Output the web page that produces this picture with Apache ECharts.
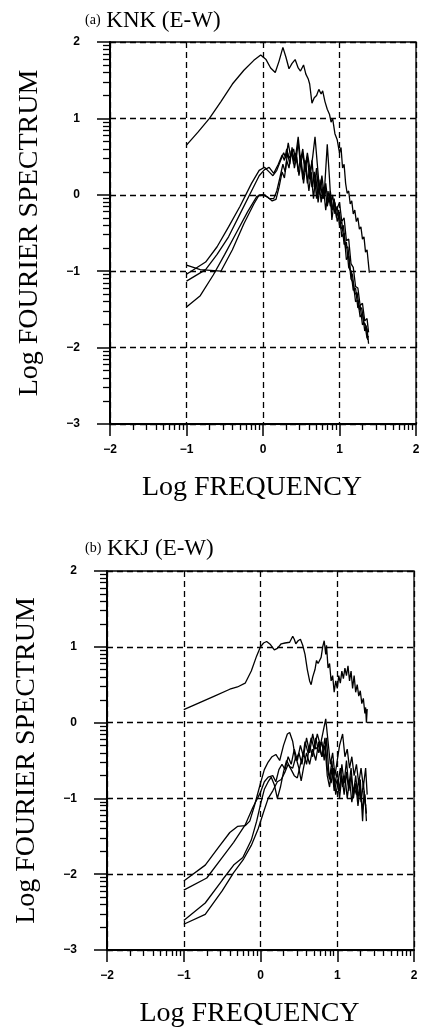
<!DOCTYPE html>
<html>
<head>
<meta charset="utf-8">
<script src="https://cdn.jsdelivr.net/npm/echarts@6/dist/echarts.min.js"></script>
<style>
  html, body { margin: 0; padding: 0; background: #fff; }
  #main { width: 429px; height: 1029px; }
</style>
</head>
<body>
<div id="main"></div>
<script>
// major tick values
const xTicks = [-2, -1, 0, 1, 2];
const yTicks = [-3, -2, -1, 0, 1, 2];

// (a) KNK (E-W), [log f, log spectrum]
const knkTop = [[-1.00,0.65],[-0.85,0.82],[-0.70,1.00],[-0.55,1.22],[-0.40,1.45],[-0.25,1.63],[-0.12,1.76],[-0.03,1.83],[0.04,1.77],[0.10,1.66],[0.16,1.60],[0.21,1.75],[0.26,1.93],[0.30,1.80],[0.34,1.65],[0.38,1.72],[0.42,1.77],[0.46,1.66],[0.49,1.62],[0.53,1.70],[0.56,1.58],[0.59,1.52],[0.61,1.45],[0.64,1.20],[0.67,1.27],[0.70,1.30],[0.73,1.38],[0.76,1.32],[0.78,1.36],[0.81,1.22],[0.84,1.12],[0.87,1.05],[0.89,0.95],[0.91,1.00],[0.94,0.80],[0.97,0.72],[1.00,0.55],[1.02,0.62],[1.04,0.35],[1.06,0.40],[1.08,0.15],[1.10,0.02],[1.12,0.05],[1.14,-0.12],[1.16,-0.08],[1.18,-0.25],[1.20,-0.20],[1.22,-0.35],[1.24,-0.30],[1.26,-0.45],[1.28,-0.42],[1.30,-0.58],[1.32,-0.55],[1.34,-0.75],[1.36,-0.72],[1.38,-0.92],[1.39,-1.02]];
const knkA = [[-1.00,-0.92],[-0.82,-0.98],[-0.55,-1.00],[-0.40,-0.72],[-0.25,-0.38],[-0.12,-0.12],[-0.05,0.00],[0.02,0.00],[0.08,-0.05],[0.14,-0.05],[0.18,0.05],[0.22,0.22],[0.26,0.40],[0.29,0.30],[0.32,0.55],[0.35,0.40],[0.38,0.62],[0.41,0.35],[0.44,0.50],[0.47,0.25],[0.50,0.45],[0.53,0.15],[0.56,0.40],[0.60,0.05],[0.63,0.30],[0.66,-0.05],[0.69,0.25],[0.72,-0.10],[0.75,0.15],[0.78,-0.05],[0.81,0.10],[0.84,-0.15],[0.87,0.00],[0.90,-0.20],[0.93,-0.05],[0.96,-0.30],[0.99,-0.20],[1.02,-0.45],[1.05,-0.40],[1.08,-0.70],[1.11,-0.68],[1.14,-0.98],[1.17,-1.05],[1.20,-1.30],[1.23,-1.28],[1.26,-1.50],[1.29,-1.48],[1.32,-1.68],[1.35,-1.72],[1.37,-1.90]];
const knkB = [[-1.00,-1.04],[-0.75,-0.88],[-0.60,-0.68],[-0.45,-0.42],[-0.30,-0.15],[-0.15,0.15],[-0.05,0.32],[0.02,0.36],[0.08,0.30],[0.13,0.25],[0.18,0.32],[0.23,0.45],[0.27,0.55],[0.30,0.48],[0.33,0.68],[0.36,0.50],[0.40,0.60],[0.43,0.42],[0.46,0.70],[0.49,0.38],[0.52,0.55],[0.55,0.30],[0.58,0.50],[0.61,0.20],[0.64,0.45],[0.67,0.10],[0.70,0.35],[0.73,0.00],[0.76,0.20],[0.79,-0.05],[0.82,0.15],[0.85,-0.10],[0.88,0.05],[0.91,-0.20],[0.94,-0.10],[0.97,-0.35],[1.00,-0.25],[1.03,-0.55],[1.06,-0.50],[1.09,-0.85],[1.12,-0.80],[1.15,-1.10],[1.18,-1.15],[1.21,-1.40],[1.24,-1.38],[1.27,-1.60],[1.30,-1.55],[1.33,-1.78],[1.36,-1.75],[1.38,-1.95]];
const knkC = [[-1.00,-1.13],[-0.75,-0.98],[-0.60,-0.78],[-0.45,-0.55],[-0.30,-0.25],[-0.15,0.05],[-0.05,0.25],[0.02,0.33],[0.08,0.36],[0.14,0.28],[0.20,0.40],[0.25,0.52],[0.28,0.45],[0.31,0.60],[0.34,0.48],[0.38,0.55],[0.42,0.45],[0.46,0.76],[0.49,0.45],[0.52,0.60],[0.55,0.35],[0.58,0.55],[0.62,0.30],[0.65,0.50],[0.68,0.76],[0.71,0.40],[0.74,0.05],[0.77,0.25],[0.80,0.00],[0.84,0.66],[0.87,0.20],[0.90,-0.33],[0.93,-0.10],[0.96,-0.20],[1.00,-0.10],[1.03,-0.35],[1.06,-0.30],[1.09,-0.60],[1.12,-0.58],[1.15,-0.90],[1.18,-0.95],[1.21,-1.20],[1.24,-1.22],[1.27,-1.45],[1.30,-1.42],[1.33,-1.65],[1.36,-1.62],[1.38,-1.80]];
const knkD = [[-1.00,-1.47],[-0.82,-1.32],[-0.65,-1.05],[-0.50,-0.78],[-0.35,-0.50],[-0.20,-0.22],[-0.08,-0.02],[0.00,0.00],[0.06,-0.03],[0.12,-0.08],[0.17,-0.06],[0.21,0.10],[0.25,0.30],[0.28,0.22],[0.31,0.45],[0.34,0.35],[0.37,0.58],[0.40,0.40],[0.43,0.55],[0.46,0.30],[0.49,0.48],[0.52,0.20],[0.55,0.45],[0.58,0.15],[0.61,0.35],[0.64,0.10],[0.67,0.30],[0.70,-0.05],[0.73,0.20],[0.76,-0.10],[0.79,0.10],[0.82,-0.20],[0.85,0.05],[0.88,-0.15],[0.91,0.00],[0.94,-0.25],[0.97,-0.15],[1.00,-0.40],[1.03,-0.35],[1.06,-0.65],[1.09,-0.62],[1.12,-0.95],[1.15,-1.00],[1.18,-1.25],[1.21,-1.22],[1.24,-1.48],[1.27,-1.45],[1.30,-1.70],[1.33,-1.68],[1.36,-1.88],[1.38,-1.85]];

// (b) KKJ (E-W)
const kkjTop = [[-1.00,0.17],[-0.80,0.26],[-0.60,0.35],[-0.40,0.44],[-0.30,0.47],[-0.20,0.52],[-0.12,0.68],[-0.05,0.88],[0.00,1.00],[0.04,1.05],[0.08,1.07],[0.13,1.03],[0.18,0.96],[0.22,0.98],[0.27,1.04],[0.32,1.05],[0.38,1.06],[0.42,1.14],[0.44,1.10],[0.46,1.04],[0.49,1.08],[0.52,1.10],[0.55,1.02],[0.58,0.90],[0.61,0.70],[0.64,0.55],[0.66,0.50],[0.68,0.60],[0.71,0.70],[0.73,0.82],[0.75,0.78],[0.77,0.82],[0.79,0.86],[0.81,1.00],[0.83,1.08],[0.85,0.90],[0.86,1.02],[0.88,0.72],[0.90,0.78],[0.92,0.55],[0.94,0.62],[0.96,0.40],[0.98,0.55],[1.00,0.45],[1.02,0.62],[1.04,0.52],[1.06,0.68],[1.08,0.58],[1.10,0.72],[1.12,0.62],[1.14,0.75],[1.16,0.55],[1.18,0.68],[1.20,0.45],[1.22,0.62],[1.24,0.40],[1.26,0.50],[1.28,0.35],[1.30,0.42],[1.32,0.25],[1.34,0.32],[1.36,0.12],[1.37,0.20],[1.38,0.00],[1.39,0.18]];
const kkjA = [[-1.00,-2.09],[-0.72,-1.88],[-0.55,-1.65],[-0.40,-1.45],[-0.30,-1.37],[-0.20,-1.36],[-0.14,-1.30],[-0.08,-1.10],[0.00,-0.80],[0.05,-0.62],[0.10,-0.52],[0.15,-0.45],[0.20,-0.42],[0.25,-0.50],[0.30,-0.30],[0.35,-0.15],[0.38,-0.13],[0.42,-0.25],[0.46,-0.50],[0.50,-0.40],[0.54,-0.55],[0.58,-0.25],[0.62,-0.40],[0.66,-0.20],[0.70,-0.35],[0.74,-0.15],[0.78,-0.30],[0.82,-0.10],[0.85,0.05],[0.88,-0.25],[0.91,-0.55],[0.94,-0.40],[0.97,-0.70],[1.00,-0.50],[1.03,-0.30],[1.07,-0.15],[1.10,-0.45],[1.13,-0.35],[1.16,-0.60],[1.19,-0.45],[1.22,-0.70],[1.25,-0.55],[1.28,-0.80],[1.31,-0.60],[1.34,-0.85],[1.37,-0.60],[1.39,-0.95]];
const kkjB = [[-1.00,-2.21],[-0.70,-2.05],[-0.50,-1.78],[-0.35,-1.58],[-0.20,-1.35],[-0.10,-1.12],[0.00,-0.92],[0.05,-0.78],[0.10,-0.72],[0.16,-0.70],[0.20,-0.78],[0.24,-0.62],[0.28,-0.55],[0.32,-0.62],[0.36,-0.45],[0.40,-0.55],[0.44,-0.35],[0.48,-0.50],[0.52,-0.30],[0.56,-0.45],[0.60,-0.20],[0.64,-0.40],[0.68,-0.15],[0.72,-0.35],[0.76,-0.30],[0.80,-0.45],[0.84,-0.20],[0.87,-0.60],[0.90,-0.75],[0.93,-0.50],[0.96,-0.85],[1.00,-0.65],[1.03,-0.90],[1.06,-0.55],[1.09,-0.80],[1.12,-0.50],[1.15,-0.85],[1.18,-0.60],[1.21,-0.95],[1.24,-0.70],[1.27,-1.00],[1.30,-0.75],[1.33,-1.30],[1.35,-0.90],[1.38,-1.20]];
const kkjC = [[-1.00,-2.61],[-0.72,-2.38],[-0.50,-2.08],[-0.35,-1.88],[-0.23,-1.78],[-0.12,-1.55],[-0.05,-1.30],[0.00,-1.08],[0.05,-0.88],[0.10,-0.78],[0.14,-0.72],[0.18,-0.82],[0.22,-1.00],[0.26,-0.85],[0.30,-0.65],[0.34,-0.50],[0.38,-0.58],[0.42,-0.60],[0.46,-0.45],[0.50,-0.60],[0.53,-0.77],[0.56,-0.60],[0.60,-0.40],[0.64,-0.55],[0.68,-0.35],[0.72,-0.50],[0.76,-0.25],[0.80,-0.45],[0.84,-0.30],[0.87,-0.70],[0.90,-0.85],[0.93,-0.60],[0.96,-0.90],[1.00,-0.75],[1.03,-1.00],[1.06,-0.70],[1.09,-0.95],[1.12,-0.65],[1.15,-0.90],[1.18,-0.70],[1.21,-1.00],[1.24,-0.80],[1.27,-1.10],[1.30,-0.85],[1.33,-1.15],[1.36,-0.95],[1.38,-1.30]];
const kkjD = [[-1.00,-2.66],[-0.72,-2.53],[-0.50,-2.22],[-0.35,-1.98],[-0.22,-1.80],[-0.12,-1.62],[-0.03,-1.40],[0.05,-1.15],[0.10,-1.00],[0.16,-0.90],[0.22,-0.78],[0.27,-0.75],[0.32,-0.65],[0.36,-0.55],[0.40,-0.62],[0.44,-0.70],[0.48,-0.73],[0.52,-0.55],[0.56,-0.40],[0.60,-0.55],[0.64,-0.30],[0.68,-0.45],[0.72,-0.20],[0.76,-0.40],[0.80,-0.25],[0.83,-0.50],[0.86,-0.20],[0.89,-0.65],[0.92,-0.80],[0.95,-0.60],[0.98,-0.95],[1.01,-0.80],[1.04,-0.60],[1.07,-0.85],[1.10,-0.70],[1.13,-1.00],[1.16,-0.75],[1.19,-1.05],[1.22,-0.85],[1.25,-0.95],[1.28,-0.75],[1.31,-1.05],[1.34,-0.80],[1.37,-1.10]];

const panels = [
  { tag: '(a)', name: 'KNK (E-W)', curves: [knkTop, knkA, knkB, knkC, knkD] },
  { tag: '(b)', name: 'KKJ (E-W)', curves: [kkjTop, kkjA, kkjB, kkjC, kkjD] }
];

// log-cycle minor ticks between the integer decades
function logMinor(from, to) {
  const v = [];
  for (let d = from; d < to; d++) {
    for (let k = 2; k <= 9; k++) v.push(d + Math.log10(k));
  }
  return v;
}

const fmt = v => String(v).replace('-', '\u2212');
const serif = 'Liberation Serif';
const black = '#000';

const grids = [
  { left: 110, top: 42, width: 306, height: 382 },
  { left: 107, top: 571, width: 307, height: 379 }
];
const titleTops = [4, 532];

const chart = echarts.init(document.getElementById('main'));

const option = {
  animation: false,
  backgroundColor: '#fff',
  title: panels.map((p, i) => ({
    text: '{t|' + p.tag + '} ' + p.name,
    left: 80,
    top: titleTops[i],
    textStyle: {
      fontFamily: serif, fontSize: 23, fontWeight: 'normal', color: black,
      rich: { t: { fontFamily: serif, fontSize: 14, color: black } }
    }
  })),
  grid: grids.map(g => Object.assign({ show: true, borderColor: black, borderWidth: 1.3, containLabel: false }, g)),
  xAxis: [],
  yAxis: [],
  series: []
};

grids.forEach((g, i) => {
  // main x axis
  option.xAxis.push({
    type: 'value', gridIndex: i, position: 'bottom',
    min: xTicks[0], max: xTicks[xTicks.length - 1], interval: 1,
    name: 'Log FREQUENCY', nameLocation: 'middle', nameGap: 50,
    nameTextStyle: { fontFamily: serif, fontSize: 28, color: black, padding: [0, 22, 0, 0] },
    axisLine: { onZero: false, lineStyle: { color: black, width: 2 } },
    axisTick: { inside: false, length: 12, lineStyle: { color: black, width: 1.5 } },
    axisLabel: { margin: 20, color: black, fontWeight: 'bold', fontSize: 12, fontFamily: 'Liberation Sans', formatter: fmt },
    splitLine: { show: true, lineStyle: { color: black, width: 1.3, type: [6, 4] } }
  });
  // minor log ticks on x
  option.xAxis.push({
    type: 'value', gridIndex: i, position: 'bottom',
    min: xTicks[0], max: xTicks[xTicks.length - 1],
    axisLine: { show: false, onZero: false },
    axisTick: { show: true, inside: false, length: 6, customValues: logMinor(-2, 2), lineStyle: { color: black, width: 1.3 } },
    axisLabel: { show: false },
    splitLine: { show: false }
  });
  // main y axis
  option.yAxis.push({
    type: 'value', gridIndex: i, position: 'left',
    min: yTicks[0], max: yTicks[yTicks.length - 1], interval: 1,
    name: 'Log FOURIER SPECTRUM', nameLocation: 'middle', nameGap: 66,
    nameTextStyle: { fontFamily: serif, fontSize: 28, color: black },
    axisLine: { onZero: false, lineStyle: { color: black, width: 2 } },
    axisTick: { inside: false, length: 13, lineStyle: { color: black, width: 1.5 } },
    axisLabel: { margin: 30, color: black, fontWeight: 'bold', fontSize: 12, fontFamily: 'Liberation Sans', formatter: fmt },
    splitLine: { show: true, lineStyle: { color: black, width: 1.3, type: [6, 4] } }
  });
  // minor log ticks on y
  option.yAxis.push({
    type: 'value', gridIndex: i, position: 'left',
    min: yTicks[0], max: yTicks[yTicks.length - 1],
    axisLine: { show: false, onZero: false },
    axisTick: { show: true, inside: false, length: 7, customValues: logMinor(-3, 2), lineStyle: { color: black, width: 1.3 } },
    axisLabel: { show: false },
    splitLine: { show: false }
  });

  panels[i].curves.forEach(c => {
    option.series.push({
      type: 'line', xAxisIndex: i * 2, yAxisIndex: i * 2,
      data: c, showSymbol: false, symbol: 'none', silent: true,
      lineStyle: { color: black, width: 1.3 }
    });
  });
});

chart.setOption(option);
</script>
</body>
</html>
